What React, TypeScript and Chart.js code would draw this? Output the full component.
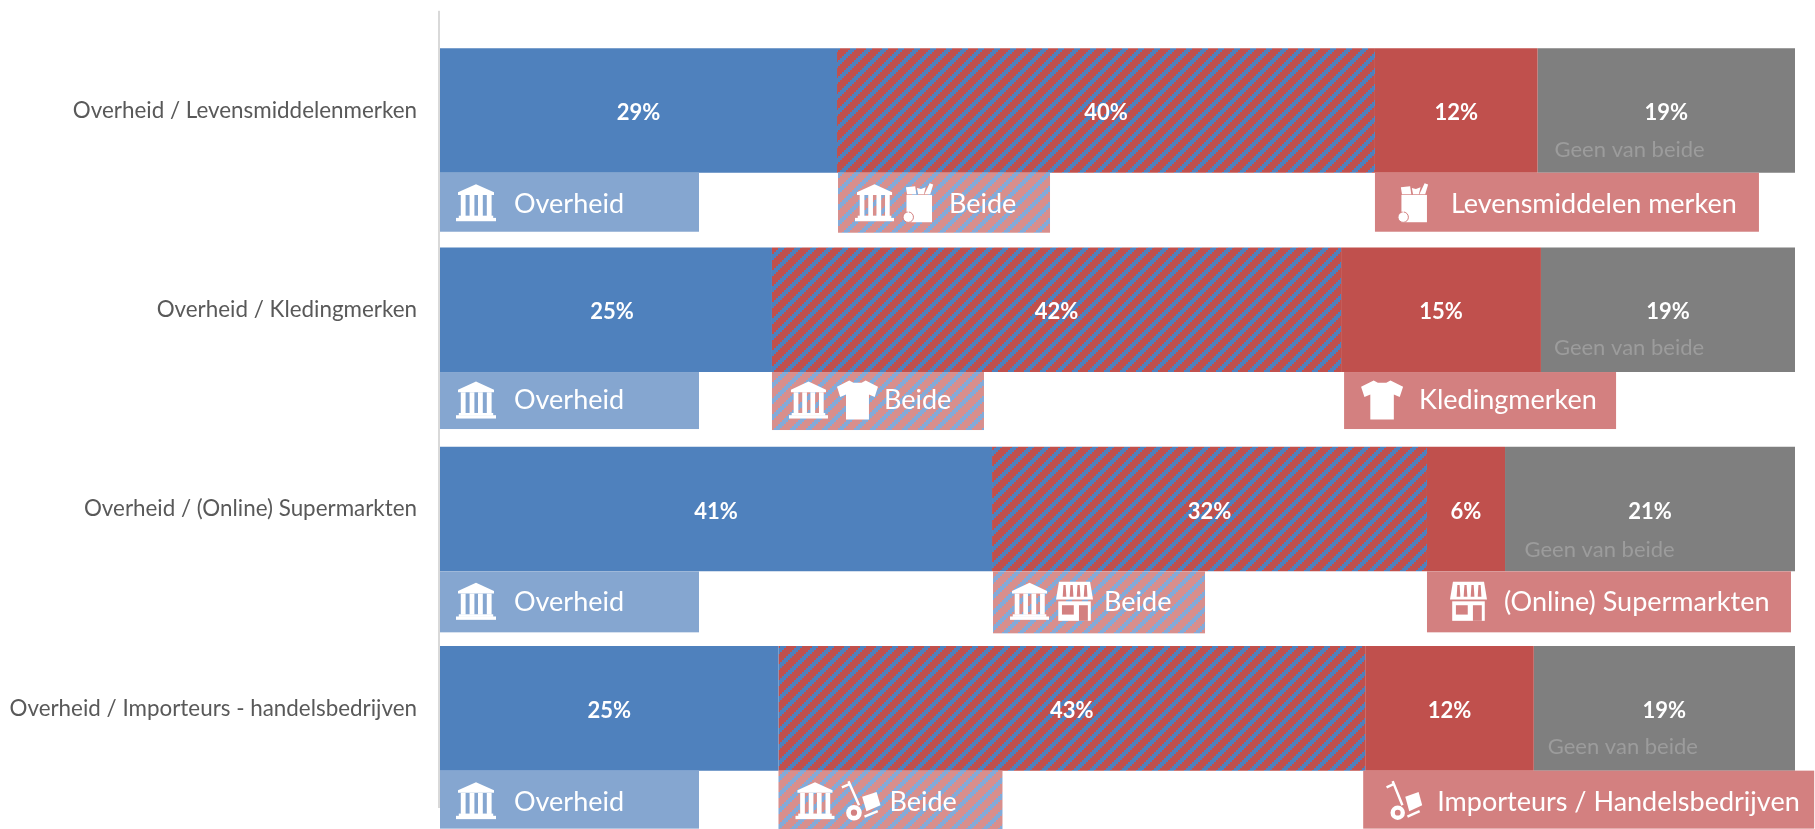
import React, { useEffect, useRef } from "react";
import { Chart, registerables } from "chart.js";

Chart.register(...registerables);

const categories = [
  "Overheid / Levensmiddelenmerken",
  "Overheid / Kledingmerken",
  "Overheid / (Online) Supermarkten",
  "Overheid / Importeurs - handelsbedrijven",
];
const overheid = [29.3, 24.5, 40.74, 24.98];
const beide = [39.7, 42.0, 32.1, 43.3];
const merken = [12.0, 14.75, 5.76, 12.44];
const geen = [19.0, 18.75, 21.4, 19.28];

const overheidLabel = "Overheid";
const beideLabel = "Beide";
const geenLabel = "Geen van beide";
const merkLabels = ["Levensmiddelen merken", "Kledingmerken", "(Online) Supermarkten", "Importeurs / Handelsbedrijven"];
const merkIcons = ["bag", "shirt", "store", "truck"];

// layout of the callouts (px)
const boxH = [59, 57, 61, 58];
const overheidW = 259;
const beideW = [212, 212, 212, 224];
const merkW = [384, 272, 364, 451];
const beideBoxDx = [1, 0, 1, 0];
const merkBoxDx = [0, 3, 0, -2];
const overheidValueDx = [0, 6, 0, 0];
const beideIconX = [65, 65, 63, 63];
const beideIconW = [29, 41, 37, 39];
const beideTextX = [111, 112, 111, 111];
const merkIconX = [23, 17, 23, 23];
const merkIconW = [29, 42, 37, 36];
const merkTextX = [76, 75, 77, 74];
const geenOffset = [17, 13, 19.5, 14];
const geenY = [-23, -24, -21, -24];
const textDy = [2, 0, 0, 3];

const BLUE = "#4f81bd";
const RED = "#c0504d";
const GRAY = "#7f7f7f";
const BLUE_BOX = "#85a6d0";
const RED_BOX = "#d38080";
const FONT = "Lato, Carlito, Calibri, sans-serif";

function hatch(a: string, b: string) {
  const c = document.createElement("canvas");
  c.width = 16;
  c.height = 16;
  const g = c.getContext("2d")!;
  g.fillStyle = b;
  g.fillRect(0, 0, 16, 16);
  g.fillStyle = a;
  for (let y = 0; y < 16; y += 2) {
    for (let x = 0; x < 16; x += 2) {
      if ((((x + y - 2) % 16) + 16) % 16 < 6) g.fillRect(x, y, 2, 2);
    }
  }
  return g.createPattern(c, "repeat")!;
}

type G = CanvasRenderingContext2D;
function poly(g: G, x: number, y: number, w: number, h: number, pts: number[][]) {
  g.beginPath();
  pts.forEach((p, i) => (i ? g.lineTo(x + p[0] * w, y + p[1] * h) : g.moveTo(x + p[0] * w, y + p[1] * h)));
  g.closePath();
  g.fill();
}
function rect(g: G, x: number, y: number, w: number, h: number, a: number, b: number, c: number, d: number) {
  g.fillRect(x + a * w, y + b * h, (c - a) * w, (d - b) * h);
}

function bank(g: G, x: number, y: number, w: number, h: number) {
  poly(g, x, y, w, h, [[0.5, 0], [0.95, 0.22], [0.95, 0.29], [0.05, 0.29], [0.05, 0.22]]);
  [0.12, 0.34, 0.55, 0.77].forEach((c) => rect(g, x, y, w, h, c, 0.29, c + 0.12, 0.86));
  rect(g, x, y, w, h, 0.07, 0.85, 0.93, 0.92);
  rect(g, x, y, w, h, 0, 0.91, 1, 1);
}
function bag(g: G, x: number, y: number, w: number, h: number, bg: string) {
  rect(g, x, y, w, h, 0.12, 0.3, 1, 1);
  poly(g, x, y, w, h, [[0.1, 0.1], [0.42, 0.08], [0.46, 0.28], [0.14, 0.28]]);
  poly(g, x, y, w, h, [[0.48, 0.12], [0.62, 0.15], [0.78, 0.1], [0.72, 0.28], [0.52, 0.28]]);
  poly(g, x, y, w, h, [[0.74, 0.28], [0.92, 0], [1.04, 0.03], [0.94, 0.28]]);
  g.strokeStyle = bg;
  g.lineWidth = 1;
  g.beginPath();
  g.arc(x + 0.18 * w, y + 0.87 * h, 0.18 * w, 0, Math.PI * 2);
  g.fill();
  g.stroke();
  rect(g, x, y, w, h, 0.16, 0.7, 0.2, 0.76);
}
function shirt(g: G, x: number, y: number, w: number, h: number) {
  poly(g, x, y, w, h, [
    [0.3, 0], [0.4, 0.06], [0.6, 0.06], [0.7, 0], [1, 0.16], [0.92, 0.42], [0.78, 0.36],
    [0.78, 1], [0.22, 1], [0.22, 0.36], [0.08, 0.42], [0, 0.16],
  ]);
}
function store(g: G, x: number, y: number, w: number, h: number, bg: string) {
  poly(g, x, y, w, h, [[0.08, 0], [0.92, 0], [1, 0.45], [0, 0.45]]);
  g.fillStyle = bg;
  [0.2, 0.39, 0.58, 0.77].forEach((c) => poly(g, x, y, w, h, [[c, 0.08], [c + 0.06, 0.08], [c + 0.08, 0.38], [c - 0.02, 0.38]]));
  g.fillStyle = "#ffffff";
  rect(g, x, y, w, h, 0.06, 0.5, 0.94, 1);
  g.fillStyle = bg;
  rect(g, x, y, w, h, 0.16, 0.6, 0.48, 0.84);
  rect(g, x, y, w, h, 0.62, 0.6, 0.86, 1);
  g.fillStyle = "#ffffff";
}
function truck(g: G, x: number, y: number, w: number, h: number, bg: string) {
  g.strokeStyle = "#ffffff";
  g.lineWidth = 2.5;
  g.beginPath();
  g.moveTo(x + 0.01 * w, y + 0.16 * h);
  g.lineTo(x + 0.22 * w, y + 0.07 * h);
  g.moveTo(x + 0.18 * w, y);
  g.lineTo(x + 0.45 * w, y + 0.62 * h);
  g.moveTo(x + 0.59 * w, y + 0.91 * h);
  g.lineTo(x + 0.93 * w, y + 0.77 * h);
  g.stroke();
  poly(g, x, y, w, h, [[0.53, 0.4], [0.9, 0.28], [1, 0.62], [0.64, 0.77]]);
  g.beginPath();
  g.arc(x + 0.32 * w, y + 0.81 * h, 0.2 * w, 0, Math.PI * 2);
  g.fill();
  g.fillStyle = bg;
  g.beginPath();
  g.arc(x + 0.32 * w, y + 0.81 * h, 0.08 * w, 0, Math.PI * 2);
  g.fill();
  g.fillStyle = "#ffffff";
}
function drawIcon(g: G, kind: string, x: number, y: number, w: number, h: number, bg: string) {
  g.fillStyle = "#ffffff";
  if (kind === "bank") bank(g, x, y, w, h);
  if (kind === "bag") bag(g, x, y, w, h, bg);
  if (kind === "shirt") shirt(g, x, y, w, h);
  if (kind === "store") store(g, x, y, w, h, bg);
  if (kind === "truck") truck(g, x, y, w, h, bg);
}

const overlay = {
  id: "overlay",
  afterDraw(chart: any) {
    const g: G = chart.ctx;
    const metas = [0, 1, 2, 3].map((i) => chart.getDatasetMeta(i));
    const area = chart.chartArea;
    g.save();
    // vertical axis line, just left of the bars
    g.fillStyle = "#d9d9d9";
    g.fillRect(area.left - 2, area.top, 2, area.bottom - area.top);
    g.textBaseline = "middle";
    categories.forEach((_, row) => {
      const b0 = metas[0].data[row];
      const b1 = metas[1].data[row];
      const b2 = metas[2].data[row];
      const b3 = metas[3].data[row];
      const top = b0.y + b0.height / 2;
      const h = boxH[row];
      const cy = top + h / 2;
      const iy = cy - 19 + textDy[row] / 2;
      const x0 = b0.base;
      const x1 = b1.base + beideBoxDx[row];
      const x2 = b2.base + merkBoxDx[row];

      // callout boxes
      g.fillStyle = BLUE_BOX;
      g.fillRect(x0, top, overheidW, h);
      g.fillStyle = hatchBox;
      g.fillRect(x1, top, beideW[row], h + 1);
      g.fillStyle = RED_BOX;
      g.fillRect(x2, top, merkW[row], h);

      // callout icons and text
      drawIcon(g, "bank", x0 + 16, iy, 40, 37, BLUE_BOX);
      drawIcon(g, "bank", x1 + 17, iy, 39, 37, RED_BOX);
      drawIcon(g, merkIcons[row], x1 + beideIconX[row], iy - 1, beideIconW[row], 39, RED_BOX);
      drawIcon(g, merkIcons[row], x2 + merkIconX[row], iy - 1, merkIconW[row], 39, RED_BOX);

      g.fillStyle = "#ffffff";
      g.textAlign = "left";
      g.font = `400 27px ${FONT}`;
      g.fillText(overheidLabel, x0 + 74, cy + textDy[row]);
      g.fillText(beideLabel, x1 + beideTextX[row], cy + textDy[row]);
      g.fillText(merkLabels[row], x2 + merkTextX[row], cy + textDy[row]);

      // value labels
      g.textAlign = "center";
      g.font = `700 22px ${FONT}`;
      metas.forEach((m: any, i: number) => {
        const el = m.data[row];
        const v = chart.data.datasets[m.index].data[row];
        const dx = i === 0 ? overheidValueDx[row] : 0;
        g.fillText(`${Math.round(v)}%`, (el.base + el.x) / 2 + dx, el.y + 2.5);
      });

      // "none" caption
      g.textAlign = "left";
      g.fillStyle = "#9c9c9c";
      g.font = `400 22px ${FONT}`;
      g.fillText(geenLabel, b3.base + geenOffset[row], top + geenY[row]);
    });
    g.restore();
  },
};

let hatchBox: CanvasPattern;

export default function App() {
  const ref = useRef<HTMLCanvasElement>(null);
  useEffect(() => {
    document.body.style.margin = "0";
    hatchBox = hatch("#84aad8", "#d88f8d");
    const chart = new Chart(ref.current!, {
      type: "bar",
      plugins: [overlay],
      data: {
        labels: categories,
        datasets: [
          { label: "Overheid", data: overheid, backgroundColor: BLUE },
          { label: "Beide", data: beide, backgroundColor: hatch(BLUE, RED) },
          { label: "Merken", data: merken, backgroundColor: RED },
          { label: "Geen van beide", data: geen, backgroundColor: GRAY },
        ],
      },
      options: {
        indexAxis: "y",
        animation: false,
        responsive: false,
        layout: { padding: { top: 10.8, bottom: 21, right: 20, left: 0 } },
        datasets: { bar: { barPercentage: 0.625, categoryPercentage: 1 } },
        plugins: { legend: { display: false }, tooltip: { enabled: false } },
        scales: {
          x: { stacked: true, display: false, min: 0, max: 100 },
          y: {
            stacked: true,
            afterFit(scale: any) {
              scale.width = 440;
              scale.paddingTop = 0;
              scale.paddingBottom = 0;
            },
            border: { display: false },
            grid: { display: false, drawTicks: false },
            ticks: { color: "#595959", padding: 23, font: { family: FONT, size: 22.4 } },
          },
        },
      },
    } as any);
    return () => chart.destroy();
  }, []);
  return <canvas ref={ref} width={1815} height={829} style={{ display: "block" }} />;
}
